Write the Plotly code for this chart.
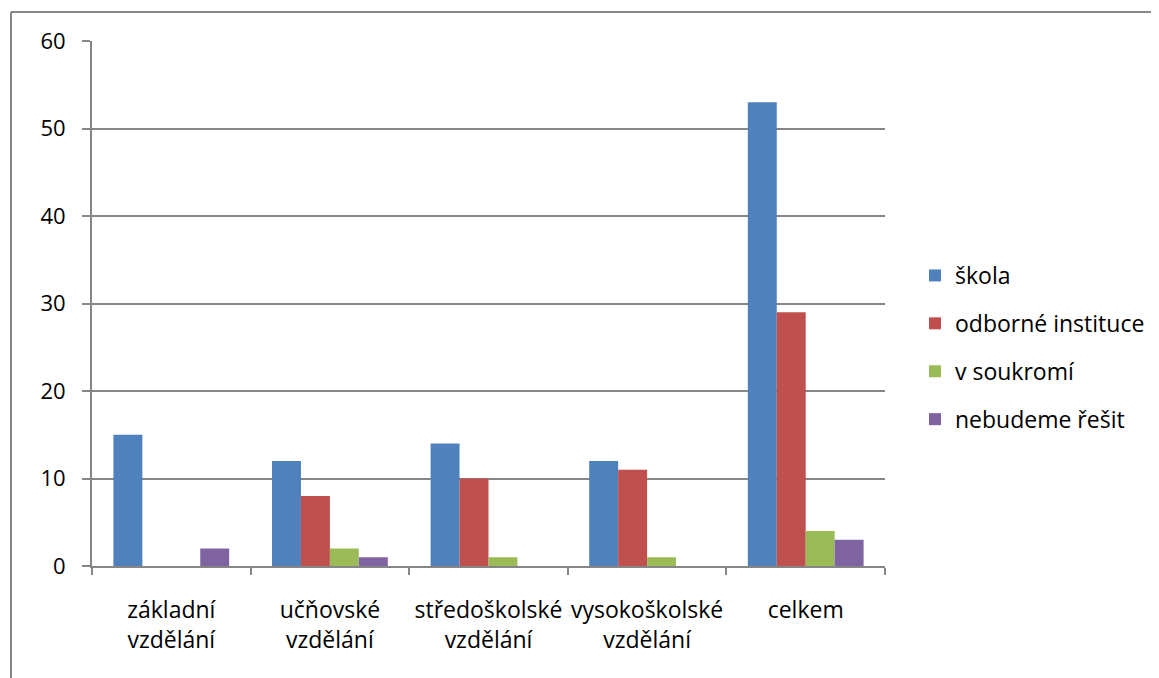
import plotly.graph_objects as go

categories = ["základní<br>vzdělání", "učňovské<br>vzdělání", "středoškolské<br>vzdělání",
              "vysokoškolské<br>vzdělání", "celkem"]
series_names = ["škola", "odborné instituce", "v soukromí", "nebudeme řešit"]
skola = [15, 12, 14, 12, 53]
odborne = [0, 8, 10, 11, 29]
soukromi = [0, 2, 1, 1, 4]
nebudeme = [2, 1, 0, 0, 3]
colors = ["#4F81BD", "#C0504D", "#9BBB59", "#8064A2"]
y_ticks = [0, 10, 20, 30, 40, 50, 60]

OFF = 8  # default page body margin
W, H = 1159 - OFF, 678 - OFF
L, R, T, B = 92 - OFF, 885 - OFF, 41 - OFF, 566 - OFF

fig = go.Figure()
for i, (name, vals) in enumerate(zip(series_names, [skola, odborne, soukromi, nebudeme])):
    fig.add_trace(go.Bar(x=categories, y=vals, name=name, marker_color=colors[i],
                         marker_line_width=0, legendgroup=str(i)))

family = "Open Sans, Noto Sans, sans-serif"
font = dict(family=family, size=22, color="#000000")
font23 = dict(family=family, size=23, color="#000000")
axis_col = "#868686"

def px(xp):
    return (xp - OFF - L) / (R - L)

def py(yp):
    return (B - (yp - OFF)) / (B - T)

fig.update_layout(
    width=W, height=H,
    margin=dict(l=L, r=W - R, t=T, b=H - B, pad=0, autoexpand=False),
    paper_bgcolor="white", plot_bgcolor="white",
    barmode="group", bargap=0.27, bargroupgap=0,
    font=font,
    showlegend=True,
    legend=dict(x=px(915), xanchor="left", y=py(254), yanchor="top",
                tracegroupgap=15, font=font23, bgcolor="rgba(0,0,0,0)"),
    xaxis=dict(showline=True, linecolor=axis_col, linewidth=2, ticks="outside", tickson="boundaries",
               ticklen=7, tickcolor=axis_col, tickwidth=2, ticklabelstandoff=22, showgrid=False,
               tickfont=font23, tickangle=0, automargin=False),
    yaxis=dict(range=[0, 60], tickvals=y_ticks, showline=True, linecolor=axis_col, linewidth=2,
               ticks="outside", ticklen=8, tickcolor=axis_col, tickwidth=2, showgrid=True,
               gridcolor=axis_col, gridwidth=1.5, zeroline=False, ticklabelstandoff=12,
               tickfont=font, automargin=False),
    shapes=[
        dict(type="line", xref="paper", yref="paper", x0=px(11), x1=px(1170),
             y0=py(12), y1=py(12), line=dict(color=axis_col, width=2)),
        dict(type="line", xref="paper", yref="paper", x0=px(11), x1=px(11),
             y0=py(12), y1=py(690), line=dict(color=axis_col, width=2)),
    ],
)

fig.write_html("out.html")
